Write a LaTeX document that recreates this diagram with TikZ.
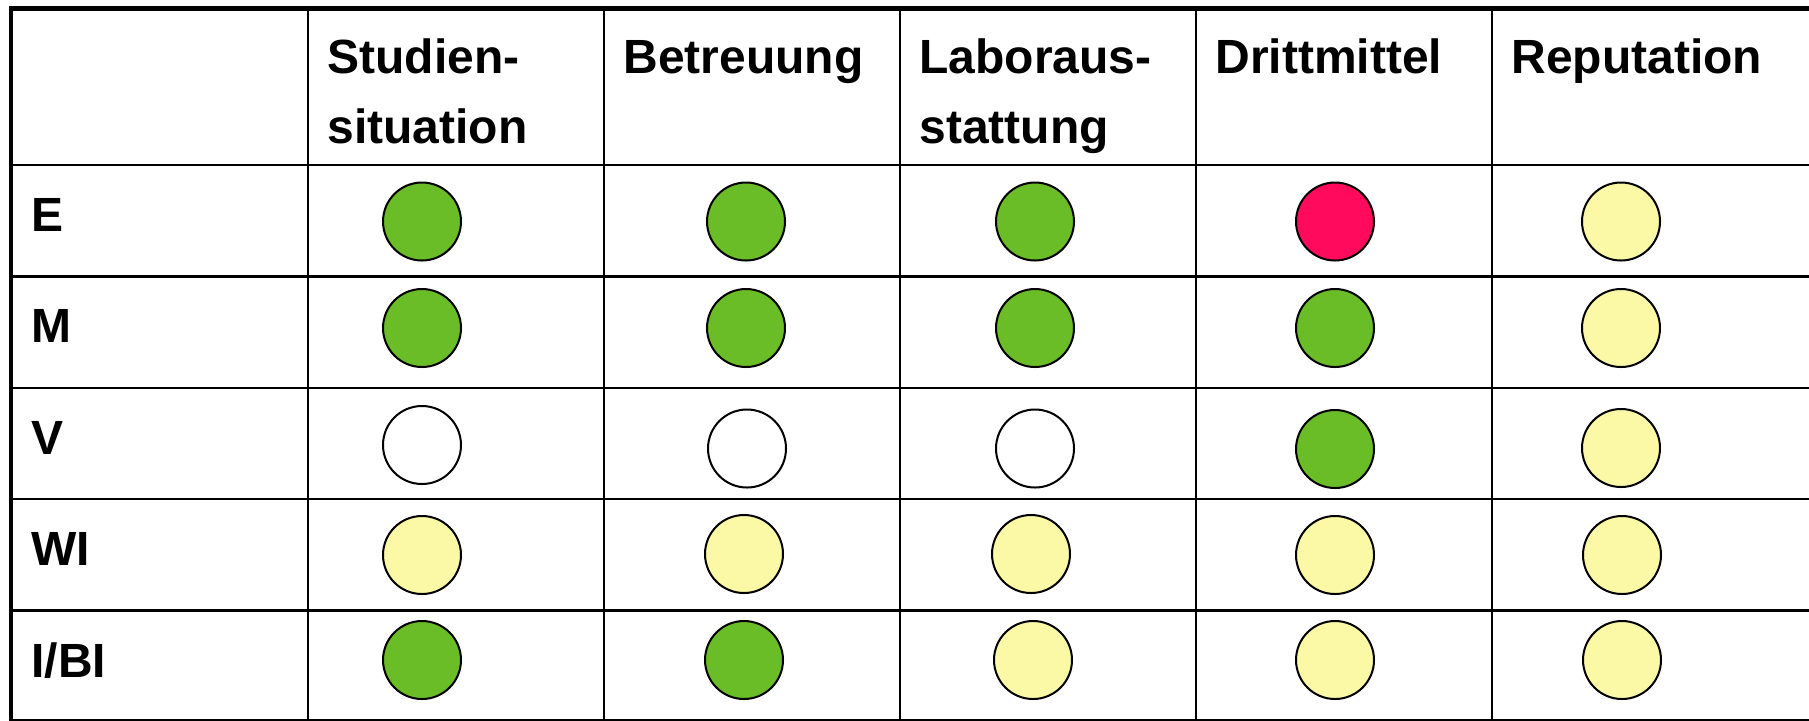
\documentclass[tikz,border=0pt]{standalone}
\usepackage{fontspec}
\setmainfont{Liberation Sans}
\definecolor{dgreen}{RGB}{106,189,38}
\definecolor{dred}{RGB}{255,10,92}
\definecolor{dyellow}{RGB}{251,249,166}
\begin{document}
\begin{tikzpicture}[x=0.5pt,y=-0.5pt,
  inner/.style={line width=1.3pt,black},
  outer/.style={line width=2.3pt,black},
  lbl/.style={anchor=base west,inner sep=0pt,font=\fontsize{24}{28}\selectfont\bfseries},
  dot/.style={circle,draw=black,line width=1pt,minimum size=39pt,inner sep=0pt},
  G/.style={dot,fill=dgreen},
  R/.style={dot,fill=dred},
  Y/.style={dot,fill=dyellow},
  W/.style={dot,fill=white}]
\clip (0,0) rectangle (1809,720);
\fill[white] (0,0) rectangle (1809,720);
% coordinates for grid lines
\foreach \n/\x in {c1/308,c2/604,c3/900,c4/1196,c5/1492}{
  \coordinate (\n t) at (\x,8.5);
  \coordinate (\n b) at (\x,725);
}
\foreach \n/\y in {r1/165,r2/276.5,r3/388,r4/499,r5/610.5}{
  \coordinate (\n l) at (11,\y);
  \coordinate (\n r) at (1815,\y);
}
\coordinate (tl) at (11,8.5);
\coordinate (tr) at (1815,8.5);
\coordinate (bl) at (11,721.5);
\coordinate (br) at (1815,721.5);
\foreach \n in {c1,c2,c3,c4,c5}{\draw[inner] (\n t) -- (\n b);}
\foreach \n in {r1,r2,r3,r4,r5}{\draw[inner] (\n l) -- (\n r);}
\draw[outer] (tr) -- (tl) -- (bl) -- (br);
% header
\node[lbl] (h1a) at (327,73) {Studien-};
\node[lbl] (h1b) at (327,143) {situation};
\node[lbl] (h2) at (623,73) {Betreuung};
\node[lbl] (h3a) at (919,73) {Laboraus-};
\node[lbl] (h3b) at (919,143) {stattung};
\node[lbl] (h4) at (1215,73) {Drittmittel};
\node[lbl] (h5) at (1511,73) {Reputation};
% row labels
\node[lbl] (rE) at (31,231) {E};
\node[lbl] (rM) at (31,342.5) {M};
\node[lbl] (rV) at (31,454) {V};
\node[lbl] (rWI) at (31,565) {WI};
\node[lbl] (rIBI) at (31,677.5) {I/BI};
% row E
\node[G] (e1) at (422,221.5) {};
\node[G] (e2) at (746,221.5) {};
\node[G] (e3) at (1035,221.5) {};
\node[R] (e4) at (1335,221.5) {};
\node[Y] (e5) at (1621,221.5) {};
% row M
\node[G] (m1) at (422,328) {};
\node[G] (m2) at (746,328) {};
\node[G] (m3) at (1035,328) {};
\node[G] (m4) at (1335,328) {};
\node[Y] (m5) at (1621,328) {};
% row V
\node[W] (v1) at (422,445) {};
\node[W] (v2) at (747,448.5) {};
\node[W] (v3) at (1035,448.5) {};
\node[G] (v4) at (1335,449) {};
\node[Y] (v5) at (1621,448) {};
% row WI
\node[Y] (w1) at (422,555) {};
\node[Y] (w2) at (744,554) {};
\node[Y] (w3) at (1031,554) {};
\node[Y] (w4) at (1335,555) {};
\node[Y] (w5) at (1622,555) {};
% row I/BI
\node[G] (i1) at (422,660) {};
\node[G] (i2) at (744,660) {};
\node[Y] (i3) at (1033,660) {};
\node[Y] (i4) at (1335,660) {};
\node[Y] (i5) at (1622,660) {};
\end{tikzpicture}
\end{document}
